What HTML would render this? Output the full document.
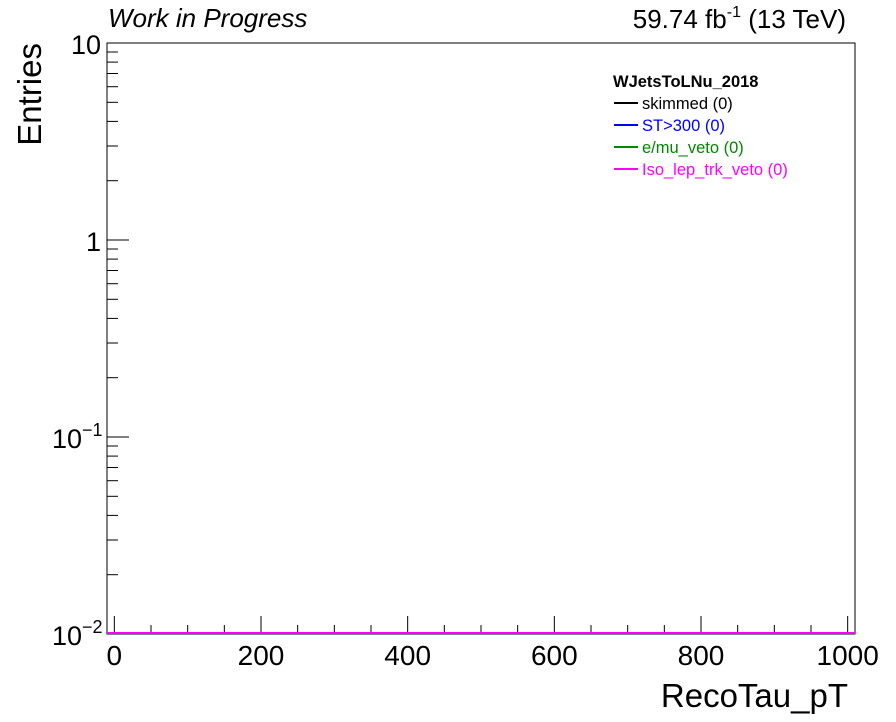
<!DOCTYPE html>
<html><head><meta charset="utf-8"><style>
body{margin:0;background:#fff;}
svg{display:block;font-family:"Liberation Sans",Arial,sans-serif;}
</style></head><body>
<svg id="c" width="896" height="722"></svg>
<script>
const xTickValues=[0,200,400,600,800,1000];
const yTickValues=[0.01,0.1,1,10];
const seriesNames=["skimmed (0)","ST>300 (0)","e/mu_veto (0)","Iso_lep_trk_veto (0)"];
const seriesColors=["#000","#0000ff","#008800","#ff00ff"];
const seriesValues=[[0],[0],[0],[0]];
const L=107,R=855,T=43,B=634,xmin=-10,xmax=1010,ymin=0.01,ymax=10;
const NS="http://www.w3.org/2000/svg";
const svg=document.getElementById('c');
function X(v){return L+(v-xmin)/(xmax-xmin)*(R-L);}
function Y(v){v=Math.max(v,ymin);return B-(Math.log10(v)-Math.log10(ymin))/(Math.log10(ymax)-Math.log10(ymin))*(B-T);}
function mk(t,a,txt){const e=document.createElementNS(NS,t);for(const k in a)e.setAttribute(k,a[k]);if(txt!=null)e.textContent=txt;svg.appendChild(e);return e;}
let e=mk('rect',{x:L,y:T,width:R-L,height:B-T,fill:'none',stroke:'#000','stroke-width':1});


for(let v=0;v<=1000;v+=50){const maj=v%200==0;const t=mk('line',{x1:X(v),x2:X(v),y1:B,y2:B-(maj?18:9),stroke:'#000'});

}
xTickValues.forEach(v=>{const t=mk('text',{x:X(v),y:665,'font-size':28,'text-anchor':'middle'},String(v));

});
for(let d=-2;d<1;d++){for(let m=1;m<10;m++){const v=m*Math.pow(10,d);const t=mk('line',{x1:L,x2:L+(m==1?22:11),y1:Y(v),y2:Y(v),stroke:'#000'});

}}
e=mk('line',{x1:L,x2:L+22,y1:Y(10),y2:Y(10),stroke:'#000'});


const yl=[["10",null],["1",null],["10","−1"],["10","−2"]];
[10,1,0.1,0.01].forEach((v,i)=>{const g=mk('text',{x:101,y:Y(v)+11,'font-size':27,'text-anchor':'end'});


g.textContent=yl[i][0];
if(yl[i][1]){const s=document.createElementNS(NS,'tspan');s.setAttribute('dy',-12);s.setAttribute('font-size',18);s.textContent=yl[i][1];g.appendChild(s);g.setAttribute('x',52);g.setAttribute('text-anchor','start');}});
seriesValues.forEach((vals,i)=>{const y=Y(vals[0]);const l=mk('line',{x1:L,x2:R,y1:y-1,y2:y-1,stroke:seriesColors[i],'stroke-width':2});

});
e=mk('text',{x:108,y:27,'font-size':26,'font-style':'italic'},'Work in Progress');


e=mk('text',{x:846,y:28,'font-size':26,'text-anchor':'end'});


e.innerHTML='59.74 fb<tspan dy="-11" font-size="16">-1</tspan><tspan dy="11"> (13 TeV)</tspan>';
e=mk('text',{x:848,y:707,'font-size':33,'text-anchor':'end'},'RecoTau_pT');


e=mk('text',{x:0,y:0,'font-size':33,'text-anchor':'end',transform:'translate(41,43) rotate(-90)'},'Entries');


e=mk('text',{x:613,y:87,'font-size':16.5,'font-weight':'bold'},'WJetsToLNu_2018');


seriesNames.forEach((n,i)=>{const y=104+i*22;
const l=mk('line',{x1:614,x2:638,y1:y-1,y2:y-1,stroke:seriesColors[i],'stroke-width':2});


const t=mk('text',{x:642,y:y+5,'font-size':16.5,fill:seriesColors[i]},n);

});
</script>
</body></html>
